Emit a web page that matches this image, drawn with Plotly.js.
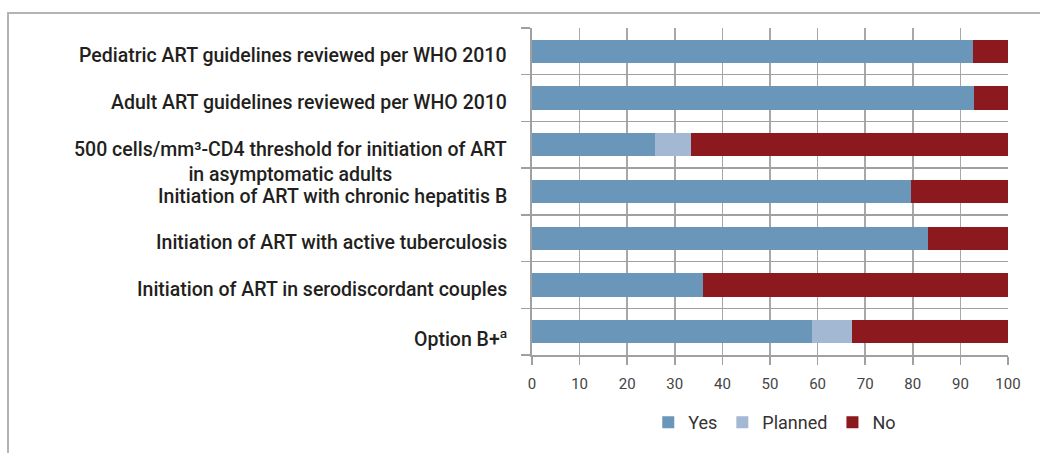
<!DOCTYPE html>
<html>
<head>
<meta charset="utf-8">
<script src="https://cdn.plot.ly/plotly-3.0.1.min.js"></script>
<style>
  html, body { margin: 0; padding: 0; background: #fff; }
  #wrap { position: relative; width: 1040px; height: 453px; }
  #chart { width: 1040px; height: 453px; }
  #frame { position: absolute; left: 7px; top: 12px; right: 0; bottom: 0;
           border-top: 2px solid #b4b4b4; border-left: 2px solid #b4b4b4; pointer-events: none; }
</style>
</head>
<body>
<div id="wrap">
  <div id="chart"></div>
  <div id="frame"></div>
</div>
<script>
const categories = [
  "Pediatric ART guidelines reviewed per WHO 2010",
  "Adult ART guidelines reviewed per WHO 2010",
  "500 cells/mm³-CD4 threshold for initiation of ART<br>in asymptomatic adults",
  "Initiation of ART with chronic hepatitis B",
  "Initiation of ART with active tuberculosis",
  "Initiation of ART in serodiscordant couples",
  "Option B+<sup>a</sup>"
];
const yesValues     = [92.6, 92.8, 25.9, 79.7, 83.1, 35.9, 58.8];
const plannedValues = [0, 0, 7.5, 0, 0, 0, 8.5];
const noValues      = [7.4, 7.2, 66.6, 20.3, 16.9, 64.1, 32.7];
const seriesNames   = ["Yes", "Planned", "No"];
const seriesColors  = ["#6a96ba", "#a3b8d3", "#8b191d"];
const xTickValues   = [0, 10, 20, 30, 40, 50, 60, 70, 80, 90, 100];

const rowIndex = categories.map((c, i) => i);

const seriesValues = [yesValues, plannedValues, noValues];
const traces = seriesValues.map((vals, i) => ({
  type: "bar",
  orientation: "h",
  name: seriesNames[i],
  x: vals,
  y: rowIndex,
  marker: { color: seriesColors[i], line: { width: 0 } },
  hoverinfo: "x+name"
}));

const labelFont = { family: "Roboto, 'Open Sans', sans-serif", size: 19.5, color: "#231f20", weight: 500 };

const annotations = categories.map((c, i) => ({
  xref: "paper", yref: "y",
  x: 0, y: rowIndex[i],
  xanchor: "right", yanchor: "top",
  xshift: -23, yshift: 9,
  align: "center",
  showarrow: false,
  text: c,
  font: labelFont
}));

const layout = {
  width: 1040, height: 453,
  margin: { l: 532, r: 32, t: 28, b: 87 },
  paper_bgcolor: "#ffffff",
  plot_bgcolor: "#ffffff",
  barmode: "stack",
  bargap: 0.5,
  showlegend: true,
  legend: {
    orientation: "h",
    x: 0.51, xanchor: "center",
    y: -0.15, yanchor: "top",
    font: { family: "Roboto, sans-serif", size: 18, color: "#333333" },
    traceorder: "normal"
  },
  xaxis: {
    range: [0, 100],
    tickvals: xTickValues,
    ticktext: xTickValues.map(String),
    showgrid: true,
    gridcolor: "#a8a8a8",
    gridwidth: 1.5,
    zeroline: false,
    showline: true,
    linecolor: "#a0a0a0",
    linewidth: 2,
    ticks: "outside",
    ticklen: 8,
    tickwidth: 1.5,
    tickcolor: "#a0a0a0",
    ticklabelstandoff: 6,
    tickfont: { family: "Roboto, sans-serif", size: 15, color: "#444444" },
    fixedrange: true
  },
  yaxis: {
    // row boundaries fall half-way between category rows
    range: [6.5, -0.5],
    tickmode: "linear",
    tick0: 0.5,
    dtick: 1,
    showticklabels: true,
    tickfont: { size: 1, color: "rgba(0,0,0,0)" },
    ticks: "outside",
    ticklen: 9,
    tickwidth: 1.5,
    tickcolor: "#a0a0a0",
    showgrid: true,
    gridcolor: "#a0a0a0",
    gridwidth: 1.5,
    showline: true,
    linecolor: "#a0a0a0",
    linewidth: 2,
    zeroline: false,
    fixedrange: true
  },
  annotations: annotations
};

Plotly.newPlot("chart", traces, layout, { displayModeBar: false, staticPlot: true });
</script>
</body>
</html>
